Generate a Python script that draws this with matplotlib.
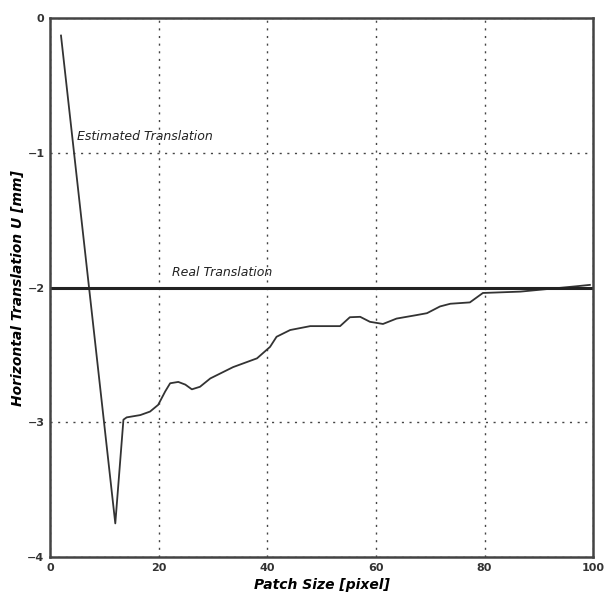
import matplotlib.pyplot as plt

patch_size = [2, 12, 13.5, 14.1, 16.6, 18.4, 19.9, 21.2, 22.1, 23.6, 24.9, 26.1,
              27.6, 29.5, 30.7, 33.7, 38.1, 40.5, 41.7, 44.2, 47.9, 53.4, 55.2,
              57.1, 58.9, 61.3, 63.8, 67.5, 69.4, 71.8, 73.7, 77.3, 79.7, 86.6,
              97, 99.4]
estimated_u = [-0.13, -3.75, -2.98, -2.963, -2.946, -2.92, -2.87, -2.77, -2.71,
               -2.70, -2.72, -2.755, -2.736, -2.674, -2.65, -2.59, -2.525, -2.44,
               -2.365, -2.315, -2.286, -2.286, -2.22, -2.217, -2.254, -2.27,
               -2.23, -2.204, -2.19, -2.14, -2.12, -2.11, -2.04, -2.03, -1.99,
               -1.98]
real_u = -2.0

x_ticks = [0, 20, 40, 60, 80, 100]
y_ticks = [0, -1, -2, -3, -4]

fig = plt.figure(figsize=(6.04, 6.01), dpi=100)
ax = fig.add_axes([0.083, 0.073, 0.899, 0.897])

ax.plot(patch_size, estimated_u, color='#333333', lw=1.3)
ax.plot([0, 100], [real_u, real_u], color='#222222', lw=2.2)

ax.set_xlim(0, 100)
ax.set_ylim(-4, 0)
ax.set_xticks(x_ticks)
ax.set_yticks(y_ticks)
ax.tick_params(length=0, labelsize=8, colors='#333333', pad=4)
for lbl in ax.get_xticklabels() + ax.get_yticklabels():
    lbl.set_fontweight('bold')

ax.grid(True, linestyle=(0, (1.5, 4)), color='#444444', lw=1.0)
for s in ax.spines.values():
    s.set_linewidth(1.8)
    s.set_color('#444444')

ax.text(5, -0.88, 'Estimated Translation', fontsize=9, style='italic', color='#222222', va='center')
ax.text(22.5, -1.89, 'Real Translation', fontsize=9, style='italic', color='#222222', va='center')

ax.set_xlabel('Patch Size [pixel]', fontsize=10, fontweight='bold', style='italic', labelpad=4)
ax.set_ylabel('Horizontal Translation U [mm]', fontsize=10, fontweight='bold', style='italic', labelpad=2)

fig.savefig('out.png', dpi=100)
